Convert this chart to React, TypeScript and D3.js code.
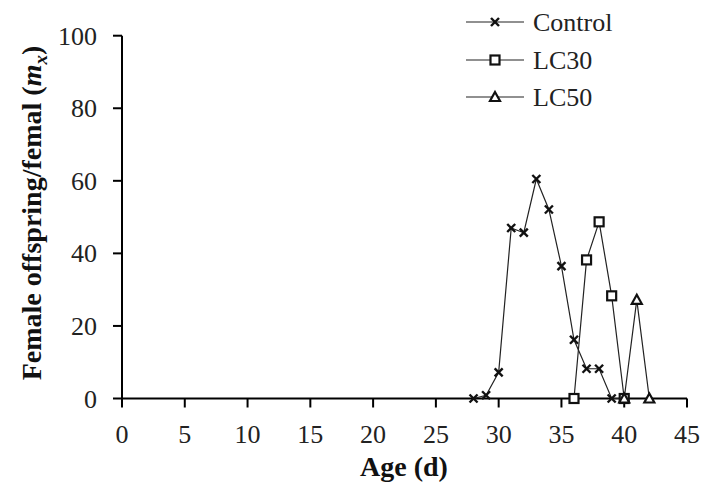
import React from "react";
import * as d3 from "d3";

const controlAge = [28, 29, 30, 31, 32, 33, 34, 35, 36, 37, 38, 39, 40];
const controlMx = [0, 0.9, 7.2, 47, 45.7, 60.5, 52.1, 36.5, 16.2, 8.2, 8.2, 0, 0];
const lc30Age = [36, 37, 38, 39, 40];
const lc30Mx = [0, 38.2, 48.7, 28.3, 0];
const lc50Age = [40, 41, 42];
const lc50Mx = [0, 27.2, 0];
const xTicks = [0, 5, 10, 15, 20, 25, 30, 35, 40, 45];
const yTicks = [0, 20, 40, 60, 80, 100];
const seriesNames = ["Control", "LC30", "LC50"];

const W = 705, H = 492;
const x = d3.scaleLinear().domain([0, 45]).range([122, 687]);
const y = d3.scaleLinear().domain([0, 100]).range([398.5, 35.7]);
const font = "Liberation Serif";

function Marker({ kind, cx, cy }: { kind: string; cx: number; cy: number }) {
  if (kind === "Control") {
    const s = 4;
    return (
      <g stroke="#111" strokeWidth={2.4}>
        <line x1={cx - s} y1={cy - s} x2={cx + s} y2={cy + s} />
        <line x1={cx - s} y1={cy + s} x2={cx + s} y2={cy - s} />
      </g>
    );
  }
  if (kind === "LC30") {
    return <rect x={cx - 4.5} y={cy - 4.5} width={9} height={9} fill="#fff" stroke="#111" strokeWidth={2.2} />;
  }
  const s = 5;
  return (
    <path
      d={`M${cx},${cy - s}L${cx + s},${cy + s * 0.8}L${cx - s},${cy + s * 0.8}Z`}
      fill="#fff"
      stroke="#111"
      strokeWidth={2.2}
    />
  );
}

export default function App() {
  const series = [
    { name: seriesNames[0], ages: controlAge, vals: controlMx },
    { name: seriesNames[1], ages: lc30Age, vals: lc30Mx },
    { name: seriesNames[2], ages: lc50Age, vals: lc50Mx },
  ];
  const line = d3
    .line<[number, number]>()
    .x((d) => x(d[0]))
    .y((d) => y(d[1]));
  const legendY = [22, 60, 97];
  const tf = { fontFamily: font };
  return (
    <svg
      width={W}
      height={H}
      style={{ position: "absolute", left: 0, top: 0, background: "#fff", fontFamily: font }}
    >
      <rect width={W} height={H} fill="#fff" />
      {/* axes */}
      <line x1={x(0)} y1={y(0)} x2={x(45)} y2={y(0)} stroke="#000" strokeWidth={2} />
      <line x1={x(0)} y1={y(0)} x2={x(0)} y2={y(100)} stroke="#000" strokeWidth={2} />
      {xTicks.map((t) => (
        <g key={"x" + t}>
          <line x1={x(t)} y1={y(0)} x2={x(t)} y2={y(0) + 9} stroke="#000" strokeWidth={2} />
          <text x={x(t)} y={443} fontSize={26} style={tf} textAnchor="middle" fill="#222">
            {t}
          </text>
        </g>
      ))}
      {yTicks.map((t) => (
        <g key={"y" + t}>
          <line x1={x(0) - 9} y1={y(t)} x2={x(0)} y2={y(t)} stroke="#000" strokeWidth={2} />
          <text x={97} y={y(t) + 9} fontSize={26} style={tf} textAnchor="end" fill="#222">
            {t}
          </text>
        </g>
      ))}
      <text x={404} y={476} fontSize={28} fontWeight="bold" style={tf} textAnchor="middle" fill="#111">
        Age (d)
      </text>
      <text
        transform={`translate(41,${213}) rotate(-90)`}
        fontSize={28}
        fontWeight="bold"
        style={tf}
        textAnchor="middle"
        fill="#111"
      >
        Female offspring/femal (
        <tspan fontStyle="italic">m</tspan>
        <tspan fontStyle="italic" fontSize={19} dy={6}>x</tspan>
        <tspan dy={-6}>)</tspan>
      </text>
      {/* series */}
      {series.map((s) => {
        const pts = s.ages.map((a, i) => [a, s.vals[i]] as [number, number]);
        return (
          <g key={s.name}>
            <path d={line(pts) || ""} fill="none" stroke="#222" strokeWidth={1.2} />
            {pts.map((p, i) => (
              <Marker key={i} kind={s.name} cx={x(p[0])} cy={y(p[1])} />
            ))}
          </g>
        );
      })}
      {/* legend */}
      {series.map((s, i) => (
        <g key={"lg" + s.name}>
          <line x1={466} y1={legendY[i]} x2={524} y2={legendY[i]} stroke="#222" strokeWidth={1.2} />
          <Marker kind={s.name} cx={495} cy={legendY[i]} />
          <text x={533} y={legendY[i] + 9} fontSize={26} style={tf} fill="#222">
            {s.name}
          </text>
        </g>
      ))}
    </svg>
  );
}
